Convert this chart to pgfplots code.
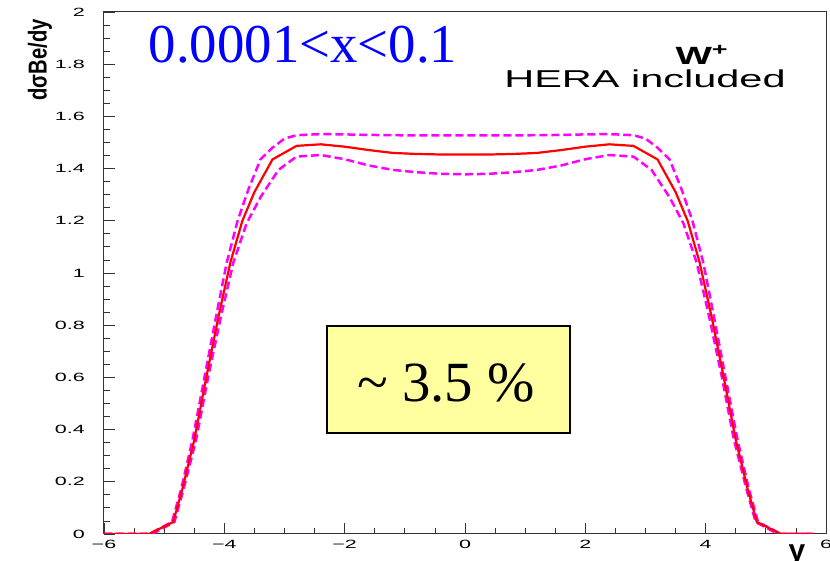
\documentclass[border=0pt]{standalone}
\usepackage{fontspec}
\setmainfont{Liberation Serif}
\setsansfont{Liberation Sans}
\usepackage{graphicx}
\usepackage{pgfplots}
\pgfplotsset{compat=1.18}
\definecolor{boxyellow}{RGB}{255,255,160}
\definecolor{rootblue}{RGB}{0,0,255}
\definecolor{rootmag}{RGB}{255,0,255}
\newcommand{\tl}[1]{\scalebox{1.8}[1]{\sffamily #1}}
\begin{document}
\begin{tikzpicture}[x=1bp,y=1bp]
\begin{axis}[
  at={(0,0)}, anchor=south west,
  scale only axis, width=722bp, height=522bp,
  xmin=-6, xmax=6, ymin=0, ymax=2,
  xtick={-6,-4,-2,0,2,4,6},
  xticklabels={\tl{−6},\tl{−4},\tl{−2},\tl{0},\tl{2},\tl{4},\tl{6}},
  ytick={0,0.2,0.4,0.6,0.8,1,1.2,1.4,1.6,1.8,2},
  yticklabels={\tl{0},\tl{0.2},\tl{0.4},\tl{0.6},\tl{0.8},\tl{1},\tl{1.2},\tl{1.4},\tl{1.6},\tl{1.8},\tl{2}},
  minor x tick num=3, minor y tick num=3,
  tick pos=left, tick align=inside,
  major tick length=11bp, minor tick length=6bp,
  tick style={black!80, line width=0.8bp},
  axis line style={draw=black!80, line width=1bp},
  xticklabel style={font=\sffamily\fontsize{12}{13}\selectfont, anchor=north, inner sep=0pt, yshift=-6bp},
  yticklabel style={font=\sffamily\fontsize{12}{13}\selectfont, anchor=east, inner sep=0pt, xshift=-19bp},
]
\addplot[rootmag, line width=2.5bp, dash pattern=on 8bp off 4bp] coordinates {
(-6,0) (-5.25,0) (-4.87,0.046) (-4.72,0.17) (-4.53,0.36) (-4.33,0.6) (-4.14,0.83) (-3.96,1.04) (-3.78,1.2) (-3.6,1.32) (-3.4,1.435) (-3.2,1.48) (-3.0,1.515) (-2.8,1.528) (-2.4,1.532) (-2.0,1.531) (-1.6,1.529) (-1.2,1.528) (-0.8,1.527) (-0.4,1.527) (0,1.527)
(0.4,1.527) (0.8,1.527) (1.2,1.528) (1.6,1.529) (2.0,1.531) (2.4,1.532) (2.8,1.528) (3.0,1.515) (3.2,1.48) (3.4,1.435) (3.6,1.32) (3.78,1.2) (3.96,1.04) (4.14,0.83) (4.33,0.6) (4.53,0.36) (4.72,0.17) (4.87,0.046) (5.25,0) (5.8,0)
};
\addplot[rootmag, line width=2.5bp, dash pattern=on 8bp off 4bp] coordinates {
(-6,0) (-5.2,0) (-4.83,0.046) (-4.68,0.17) (-4.47,0.36) (-4.27,0.6) (-4.06,0.83) (-3.85,1.04) (-3.63,1.19) (-3.4,1.29) (-3.1,1.395) (-2.8,1.446) (-2.4,1.452) (-2.0,1.436) (-1.6,1.412) (-1.2,1.395) (-0.8,1.386) (-0.4,1.38) (0,1.378)
(0.4,1.38) (0.8,1.386) (1.2,1.395) (1.6,1.412) (2.0,1.436) (2.4,1.452) (2.8,1.446) (3.1,1.395) (3.4,1.29) (3.63,1.19) (3.85,1.04) (4.06,0.83) (4.27,0.6) (4.47,0.36) (4.68,0.17) (4.83,0.046) (5.2,0) (5.8,0)
};
\addplot[red, line width=2.2bp] coordinates {
(-6,0) (-5.25,0) (-4.85,0.046) (-4.7,0.17) (-4.5,0.36) (-4.3,0.6) (-4.1,0.83) (-3.9,1.04) (-3.7,1.2) (-3.5,1.31) (-3.2,1.435) (-2.8,1.487) (-2.4,1.493) (-2.0,1.484) (-1.6,1.471) (-1.2,1.46) (-0.8,1.456) (-0.4,1.454) (0,1.454)
(0.4,1.454) (0.8,1.456) (1.2,1.46) (1.6,1.471) (2.0,1.484) (2.4,1.493) (2.8,1.487) (3.2,1.435) (3.5,1.31) (3.7,1.2) (3.9,1.04) (4.1,0.83) (4.3,0.6) (4.5,0.36) (4.7,0.17) (4.85,0.046) (5.25,0) (5.8,0)
};
\end{axis}
% annotations
\node[anchor=base, text=rootblue, font=\fontsize{55}{60}\selectfont, inner sep=0pt] at (199,471) {0.0001<x<0.1};
\node[anchor=base, font=\sffamily\bfseries\fontsize{25}{28}\selectfont, inner sep=0pt, xscale=1.55] at (598,469) {W\textsuperscript{+}};
\node[anchor=base, font=\sffamily\fontsize{24.5}{28}\selectfont, inner sep=0pt, xscale=1.7] at (541,446) {HERA included};
\draw[black, line width=1.5bp, fill=boxyellow] (223,101) rectangle (466,208);
\node[anchor=base, font=\fontsize{57}{60}\selectfont, inner sep=0pt] at (342,132) {\textasciitilde{} 3.5 \%};
\node[rotate=90, font=\sffamily\bfseries\fontsize{26}{28}\selectfont, inner sep=0pt, xscale=0.78] at (-64,474) {dσBe/dy};
\node[anchor=base, font=\sffamily\bfseries\fontsize{30}{32}\selectfont, inner sep=0pt] at (693,-27) {y};
\pgfresetboundingbox
\path[use as bounding box] (-104,-27) rectangle (726,534);
\end{tikzpicture}
\end{document}
